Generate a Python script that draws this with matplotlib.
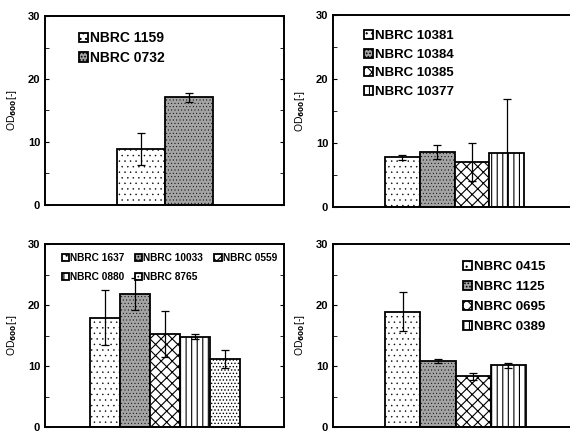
import matplotlib
matplotlib.use("Agg")
import matplotlib.pyplot as plt
from matplotlib.ticker import MultipleLocator

plt.rcParams['font.family'] = ['Liberation Sans', 'DejaVu Sans']
plt.rcParams['font.weight'] = 'bold'
plt.rcParams['hatch.linewidth'] = 0.8

# Panel data
p1_labels = ["NBRC 1159", "NBRC 0732"]
p1_vals = [8.9, 17.1]
p1_err = [2.6, 0.7]

p2_labels = ["NBRC 10381", "NBRC 10384", "NBRC 10385", "NBRC 10377"]
p2_vals = [7.8, 8.6, 7.0, 8.4]
p2_err = [0.4, 1.1, 3.0, 8.5]

p3_labels = ["NBRC 1637", "NBRC 10033", "NBRC 0559", "NBRC 0880", "NBRC 8765"]
p3_vals = [17.9, 21.8, 15.2, 14.8, 11.2]
p3_err = [4.5, 2.7, 3.8, 0.4, 1.5]

p4_labels = ["NBRC 0415", "NBRC 1125", "NBRC 0695", "NBRC 0389"]
p4_vals = [18.9, 10.8, 8.3, 10.1]
p4_err = [3.2, 0.3, 0.6, 0.4]

styles = [
    dict(facecolor='white', hatch='...', hlw=0.3),
    dict(facecolor='#a4a4a4', hatch='.....', hlw=0.3),
    dict(facecolor='white', hatch='xxx', hlw=0.8),
    dict(facecolor='white', hatch='|||', hlw=0.8),
    dict(facecolor='white', hatch='.....', hlw=0.6),
]

fig = plt.figure(figsize=(5.7, 4.32), dpi=100)

def panel(rect, labels, vals, errs, xlim, legend_kw, order=None):
    ax = fig.add_axes(rect)
    n = len(vals)
    xs = list(range(n))
    for i in range(n):
        st = styles[i]
        bars = ax.bar(xs[i], vals[i], width=1.0, facecolor=st['facecolor'], hatch=st['hatch'],
                      edgecolor='black', linewidth=1.3, label=labels[i], zorder=2)
        for b in bars:
            if hasattr(b, 'set_hatch_linewidth'):
                b.set_hatch_linewidth(st['hlw'])
        ax.errorbar(xs[i], vals[i], yerr=errs[i], fmt='none', ecolor='black',
                    elinewidth=0.9, capsize=3, capthick=0.9, zorder=3)
    ax.set_xlim(*xlim)
    ax.set_ylim(0, 30)
    ax.yaxis.set_major_locator(MultipleLocator(10))
    ax.yaxis.set_minor_locator(MultipleLocator(5))
    ax.tick_params(axis='y', which='both', direction='in', left=True, right=True,
                   labelsize=8, length=3)
    ax.tick_params(axis='x', bottom=False, labelbottom=False)
    for s in ax.spines.values():
        s.set_linewidth(1.4)
    ax.set_ylabel('OD$_{600}$[-]', fontsize=7.5, fontweight='normal', labelpad=6)
    handles, labs = ax.get_legend_handles_labels()
    if order is not None:
        handles = [handles[k] for k in order]
        labs = [labs[k] for k in order]
    ax.legend(handles, labs, frameon=False, handlelength=0.7, handleheight=0.7,
              handletextpad=0.1, borderaxespad=0.3, **legend_kw)
    return ax

panel([45/570, 1-205/432, 239/570, 189/432], p1_labels, p1_vals, p1_err, (-2.0, 2.98),
      dict(loc='upper left', bbox_to_anchor=(0.10, 0.97), fontsize=10, labelspacing=0.4))
panel([333/570, 1-207/432, 242/570, 192/432], p2_labels, p2_vals, p2_err, (-2.0, 4.97),
      dict(loc='upper left', bbox_to_anchor=(0.09, 0.97), fontsize=9.5, labelspacing=0.48))
panel([45/570, 1-427/432, 239/570, 183/432], p3_labels, p3_vals, p3_err, (-2.0, 5.97),
      dict(loc='upper left', bbox_to_anchor=(0.04, 0.99), fontsize=7.3, ncol=3,
           columnspacing=1.1, labelspacing=0.9), order=[0, 3, 1, 4, 2])
panel([333/570, 1-427/432, 242/570, 183/432], p4_labels, p4_vals, p4_err, (-1.98, 4.89),
      dict(loc='upper left', bbox_to_anchor=(0.50, 0.96), fontsize=9.5, labelspacing=0.6))

fig.savefig('out.png', dpi=100)
